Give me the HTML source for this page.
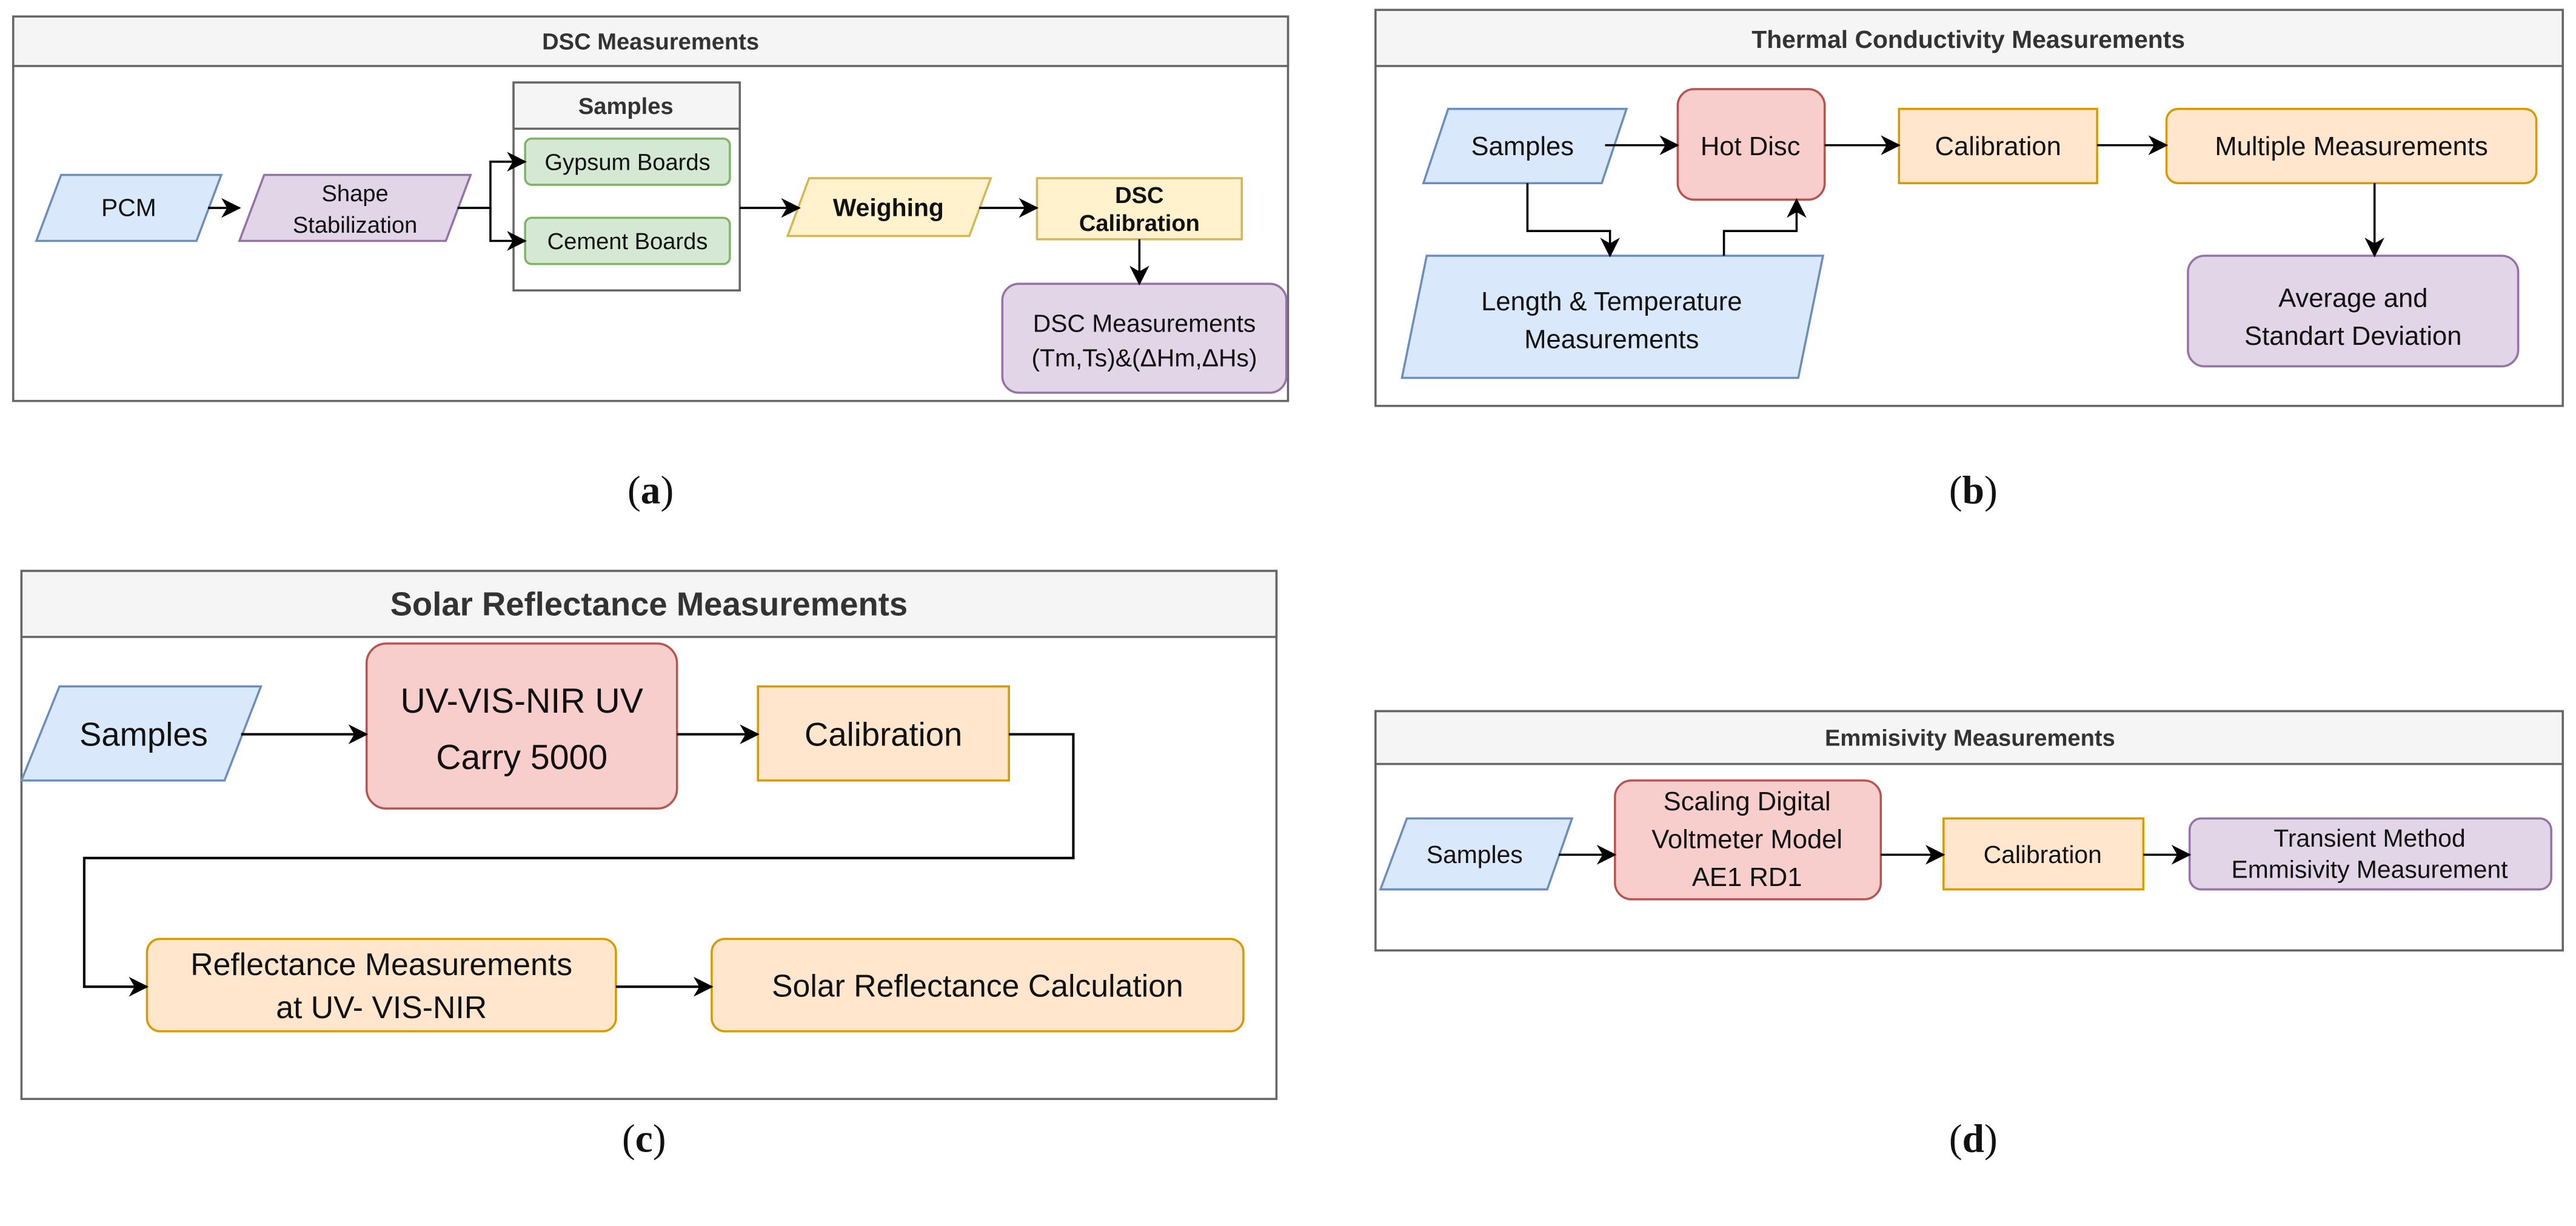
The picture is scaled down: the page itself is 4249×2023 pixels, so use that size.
<!DOCTYPE html>
<html><head><meta charset="utf-8"><style>
html,body{margin:0;padding:0;background:#fff;}
svg{display:block;}
text{font-family:"Liberation Sans",sans-serif;fill:#111;}
.t{font-weight:bold;fill:#333;}
.cap{font-family:"Liberation Serif",serif;font-size:24px;}
</style></head><body>
<svg width="4249" height="2023" viewBox="0 0 1560 743" preserveAspectRatio="none" xmlns="http://www.w3.org/2000/svg">
<defs>
<marker id="ar" markerWidth="12" markerHeight="12" refX="11" refY="6" orient="auto" markerUnits="userSpaceOnUse">
<path d="M0,0 L12,6 L0,12 L3.5,6 Z" fill="#000"/>
</marker>
</defs>
<g stroke-width="1.3">
<!-- Panel a -->
<rect x="8" y="10" width="772" height="233" fill="#fff" stroke="#666"/>
<rect x="8" y="10" width="772" height="30" fill="#f5f5f5" stroke="#666"/>
<text x="394" y="30" class="t" font-size="14" text-anchor="middle" stroke="none">DSC Measurements</text>
<polygon points="37,106 134,106 119,146 22,146" fill="#dae8fc" stroke="#6c8ebf"/>
<text x="78" y="131" font-size="15" text-anchor="middle" stroke="none">PCM</text>
<polygon points="160,106 285,106 270,146 145,146" fill="#e1d5e7" stroke="#9673a6"/>
<text x="215" y="122" font-size="14" text-anchor="middle" stroke="none">Shape</text>
<text x="215" y="141" font-size="14" text-anchor="middle" stroke="none">Stabilization</text>
<rect x="311" y="50" width="137" height="126" fill="#fff" stroke="#666"/>
<rect x="311" y="50" width="137" height="28" fill="#f5f5f5" stroke="#666"/>
<text x="379" y="69" class="t" font-size="14" text-anchor="middle" stroke="none">Samples</text>
<rect x="318" y="84" width="124" height="28" rx="4" fill="#d5e8d4" stroke="#82b366"/>
<text x="380" y="103" font-size="14" text-anchor="middle" stroke="none">Gypsum Boards</text>
<rect x="318" y="132" width="124" height="28" rx="4" fill="#d5e8d4" stroke="#82b366"/>
<text x="380" y="151" font-size="14" text-anchor="middle" stroke="none">Cement Boards</text>
<polygon points="490,108 600,108 587,143 477,143" fill="#fff2cc" stroke="#d6b656"/>
<text x="538" y="131" font-size="15" font-weight="bold" text-anchor="middle" stroke="none">Weighing</text>
<rect x="628" y="108" width="124" height="37" fill="#fff2cc" stroke="#d6b656"/>
<text x="690" y="123" font-size="14" font-weight="bold" text-anchor="middle" stroke="none">DSC</text>
<text x="690" y="140" font-size="14" font-weight="bold" text-anchor="middle" stroke="none">Calibration</text>
<rect x="607" y="172" width="172" height="66" rx="10" fill="#e1d5e7" stroke="#9673a6"/>
<text x="693" y="201" font-size="15" text-anchor="middle" stroke="none">DSC Measurements</text>
<text x="693" y="222" font-size="15" text-anchor="middle" stroke="none">(Tm,Ts)&amp;(ΔHm,ΔHs)</text>
<g fill="none" stroke="#000">
<line x1="126" y1="126" x2="145" y2="126" marker-end="url(#ar)"/>
<polyline points="277,126 297,126 297,98 318,98" marker-end="url(#ar)"/>
<polyline points="297,126 297,146 318,146" marker-end="url(#ar)"/>
<line x1="448" y1="126" x2="484" y2="126" marker-end="url(#ar)"/>
<line x1="593" y1="126" x2="628" y2="126" marker-end="url(#ar)"/>
<line x1="690" y1="145" x2="690" y2="172" marker-end="url(#ar)"/>
</g>
<text x="394" y="305" class="cap" text-anchor="middle" stroke="none">(<tspan font-weight="bold">a</tspan>)</text>

<!-- Panel b -->
<rect x="833" y="6" width="719" height="240" fill="#fff" stroke="#666"/>
<rect x="833" y="6" width="719" height="34" fill="#f5f5f5" stroke="#666"/>
<text x="1192" y="29" class="t" font-size="15" text-anchor="middle" stroke="none">Thermal Conductivity Measurements</text>
<polygon points="877,66 985,66 970,111 862,111" fill="#dae8fc" stroke="#6c8ebf"/>
<text x="922" y="94" font-size="16" text-anchor="middle" stroke="none">Samples</text>
<rect x="1016" y="54" width="89" height="67" rx="10" fill="#f8cecc" stroke="#b85450"/>
<text x="1060" y="94" font-size="16" text-anchor="middle" stroke="none">Hot Disc</text>
<rect x="1150" y="66" width="120" height="45" fill="#ffe6cc" stroke="#d79b00"/>
<text x="1210" y="94" font-size="16" text-anchor="middle" stroke="none">Calibration</text>
<rect x="1312" y="66" width="224" height="45" rx="7" fill="#ffe6cc" stroke="#d79b00"/>
<text x="1424" y="94" font-size="16" text-anchor="middle" stroke="none">Multiple Measurements</text>
<polygon points="864,155 1104,155 1089,229 849,229" fill="#dae8fc" stroke="#6c8ebf"/>
<text x="976" y="188" font-size="16" text-anchor="middle" stroke="none">Length &amp; Temperature</text>
<text x="976" y="211" font-size="16" text-anchor="middle" stroke="none">Measurements</text>
<rect x="1325" y="155" width="200" height="67" rx="10" fill="#e1d5e7" stroke="#9673a6"/>
<text x="1425" y="186" font-size="16" text-anchor="middle" stroke="none">Average and</text>
<text x="1425" y="209" font-size="16" text-anchor="middle" stroke="none">Standart Deviation</text>
<g fill="none" stroke="#000">
<line x1="972" y1="88" x2="1016" y2="88" marker-end="url(#ar)"/>
<line x1="1105" y1="88" x2="1150" y2="88" marker-end="url(#ar)"/>
<line x1="1270" y1="88" x2="1312" y2="88" marker-end="url(#ar)"/>
<polyline points="925,111 925,140 975,140 975,155" marker-end="url(#ar)"/>
<polyline points="1044,155 1044,140 1088,140 1088,121" marker-end="url(#ar)"/>
<line x1="1438" y1="111" x2="1438" y2="155" marker-end="url(#ar)"/>
</g>
<text x="1195" y="305" class="cap" text-anchor="middle" stroke="none">(<tspan font-weight="bold">b</tspan>)</text>

<!-- Panel c -->
<rect x="13" y="346" width="760" height="320" fill="#fff" stroke="#666"/>
<rect x="13" y="346" width="760" height="40" fill="#f5f5f5" stroke="#666"/>
<text x="393" y="373" class="t" font-size="20" text-anchor="middle" stroke="none">Solar Reflectance Measurements</text>
<polygon points="36,416 158,416 136,473 13,473" fill="#dae8fc" stroke="#6c8ebf"/>
<text x="87" y="452" font-size="20" text-anchor="middle" stroke="none">Samples</text>
<rect x="222" y="390" width="188" height="100" rx="12" fill="#f8cecc" stroke="#b85450"/>
<text x="316" y="432" font-size="21" text-anchor="middle" stroke="none">UV-VIS-NIR UV</text>
<text x="316" y="466" font-size="21" font-family="Liberation Serif,serif" text-anchor="middle" stroke="none">Carry 5000</text>
<rect x="459" y="416" width="152" height="57" fill="#ffe6cc" stroke="#d79b00"/>
<text x="535" y="452" font-size="20" text-anchor="middle" stroke="none">Calibration</text>
<rect x="89" y="569" width="284" height="56" rx="8" fill="#ffe6cc" stroke="#d79b00"/>
<text x="231" y="591" font-size="19" text-anchor="middle" stroke="none">Reflectance Measurements</text>
<text x="231" y="617" font-size="19" text-anchor="middle" stroke="none">at UV- VIS-NIR</text>
<rect x="431" y="569" width="322" height="56" rx="8" fill="#ffe6cc" stroke="#d79b00"/>
<text x="592" y="604" font-size="19" text-anchor="middle" stroke="none">Solar Reflectance Calculation</text>
<g fill="none" stroke="#000" stroke-width="1.5">
<line x1="146" y1="445" x2="222" y2="445" marker-end="url(#ar)"/>
<line x1="410" y1="445" x2="459" y2="445" marker-end="url(#ar)"/>
<polyline points="611,445 650,445 650,520 51,520 51,598 89,598" marker-end="url(#ar)"/>
<line x1="373" y1="598" x2="431" y2="598" marker-end="url(#ar)"/>
</g>
<text x="390" y="698" class="cap" text-anchor="middle" stroke="none">(<tspan font-weight="bold">c</tspan>)</text>

<!-- Panel d -->
<rect x="833" y="431" width="719" height="145" fill="#fff" stroke="#666"/>
<rect x="833" y="431" width="719" height="32" fill="#f5f5f5" stroke="#666"/>
<text x="1193" y="452" class="t" font-size="14" text-anchor="middle" stroke="none">Emmisivity Measurements</text>
<polygon points="852,496 952,496 937,539 836,539" fill="#dae8fc" stroke="#6c8ebf"/>
<text x="893" y="523" font-size="15" text-anchor="middle" stroke="none">Samples</text>
<rect x="978" y="473" width="161" height="72" rx="10" fill="#f8cecc" stroke="#b85450"/>
<text x="1058" y="491" font-size="16" font-family="Liberation Serif,serif" text-anchor="middle" stroke="none">Scaling Digital</text>
<text x="1058" y="514" font-size="16" font-family="Liberation Serif,serif" text-anchor="middle" stroke="none">Voltmeter Model</text>
<text x="1058" y="537" font-size="16" font-family="Liberation Serif,serif" text-anchor="middle" stroke="none">AE1 RD1</text>
<rect x="1177" y="496" width="121" height="43" fill="#ffe6cc" stroke="#d79b00"/>
<text x="1237" y="523" font-size="15" text-anchor="middle" stroke="none">Calibration</text>
<rect x="1326" y="496" width="219" height="43" rx="7" fill="#e1d5e7" stroke="#9673a6"/>
<text x="1435" y="513" font-size="15" text-anchor="middle" stroke="none">Transient Method</text>
<text x="1435" y="532" font-size="15" text-anchor="middle" stroke="none">Emmisivity Measurement</text>
<g fill="none" stroke="#000">
<line x1="944" y1="518" x2="978" y2="518" marker-end="url(#ar)"/>
<line x1="1139" y1="518" x2="1177" y2="518" marker-end="url(#ar)"/>
<line x1="1298" y1="518" x2="1326" y2="518" marker-end="url(#ar)"/>
</g>
<text x="1195" y="698" class="cap" text-anchor="middle" stroke="none">(<tspan font-weight="bold">d</tspan>)</text>
</g>
</svg>
</body></html>
